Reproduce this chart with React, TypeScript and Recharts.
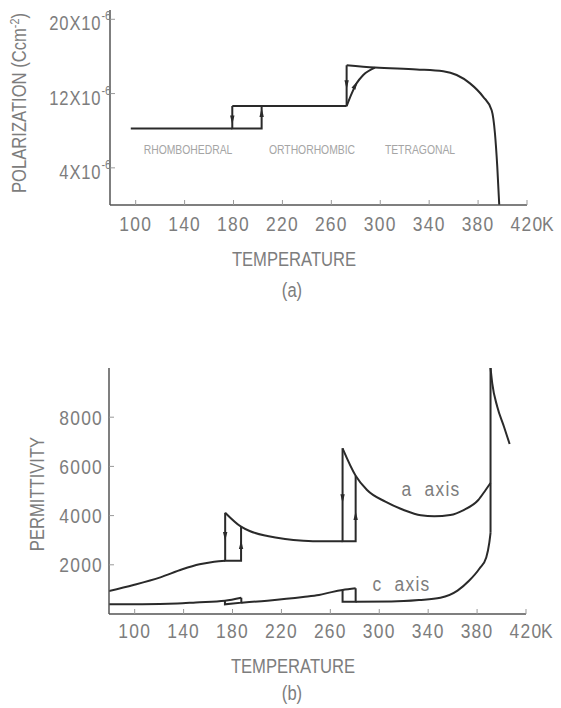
import React from "react";
import { ComposedChart, Line, Scatter, XAxis, YAxis } from "recharts";

// no narrow face installed, so Liberation Sans is squeezed horizontally
const FONT = "'Liberation Sans', Arial, sans-serif";
const SQUEEZE = 0.83;
const INK = "#2a2a2a";
const AXIS = "#555";
const LABEL = "#7d7d7d";
const FAINT = "#a5a5a5";

// shared temperature axis (K)
const tempDomain = [79, 420];
const tempTicks = [100, 140, 180, 220, 260, 300, 340, 380, 420];

// (a) polarization, values in units of 1e-6 C cm^-2
const polTicks = [4, 12, 20];
const polRhombo = [
  { t: 96, p: 8.25 },
  { t: 179, p: 8.25 },
];
const polStep1 = [
  { t: 179, p: 10.65 },
  { t: 179, p: 8.25 },
  { t: 203, p: 8.25 },
  { t: 203, p: 10.65 },
];
const polOrtho = [
  { t: 179, p: 10.65 },
  { t: 272.5, p: 10.65 },
];
const polDrop = [
  { t: 272.5, p: 10.65 },
  { t: 272.5, p: 15.05 },
];
const polHeat = [
  { t: 272.5, p: 10.65 },
  { t: 276.6, p: 12.0 },
  { t: 280.7, p: 13.1 },
  { t: 286.1, p: 14.0 },
  { t: 295.7, p: 14.8 },
];
const polTetra = [
  { t: 272.5, p: 15.05 },
  { t: 295.7, p: 14.8 },
  { t: 329.8, p: 14.6 },
  { t: 351.5, p: 14.4 },
  { t: 362.5, p: 14.0 },
  { t: 373.4, p: 13.1 },
  { t: 384.2, p: 11.65 },
  { t: 391.1, p: 10.2 },
  { t: 393.8, p: 7.7 },
  { t: 395.7, p: 4.1 },
  { t: 397.3, p: 0 },
];
// heading in degrees, 0 = pointing up
const polArrows = [
  { t: 179, p: 9.2, heading: 180 },
  { t: 203, p: 9.9, heading: 0 },
  { t: 272.5, p: 13.0, heading: 180 },
  { t: 279.6, p: 12.9, heading: 28 },
];
const polPhases = [
  { t: 142.8, p: 6.0, text: "RHOMBOHEDRAL" },
  { t: 244.2, p: 6.0, text: "ORTHORHOMBIC" },
  { t: 332.5, p: 6.0, text: "TETRAGONAL" },
];

// (b) permittivity
const epsTicks = [2000, 4000, 6000, 8000];
const aRhombo = [
  { t: 79, e: 935 },
  { t: 99, e: 1180 },
  { t: 121, e: 1490 },
  { t: 139, e: 1816 },
  { t: 153, e: 2019 },
  { t: 165, e: 2127 },
  { t: 174, e: 2168 },
];
const aStep1 = [
  { t: 174, e: 4119 },
  { t: 174, e: 2168 },
  { t: 187, e: 2168 },
  { t: 187, e: 3550 },
];
const aOrtho = [
  { t: 174, e: 4119 },
  { t: 187, e: 3550 },
  { t: 194, e: 3374 },
  { t: 208.5, e: 3171 },
  { t: 223, e: 3049 },
  { t: 238, e: 2981 },
  { t: 252, e: 2954 },
  { t: 270, e: 2954 },
];
const aStep2 = [
  { t: 270, e: 6734 },
  { t: 270, e: 2954 },
  { t: 280.7, e: 2954 },
  { t: 280.7, e: 5623 },
];
const aTetra = [
  { t: 270, e: 6734 },
  { t: 280.7, e: 5623 },
  { t: 290, e: 5041 },
  { t: 305, e: 4566 },
  { t: 320, e: 4227 },
  { t: 334, e: 4011 },
  { t: 345, e: 3970 },
  { t: 358, e: 4024 },
  { t: 369, e: 4227 },
  { t: 381, e: 4634 },
  { t: 387, e: 5041 },
  { t: 391, e: 5325 },
];
const aSpike = [
  { t: 391, e: 3300 },
  { t: 391, e: 10000 },
];
const aCubic = [
  { t: 391, e: 10000 },
  { t: 392.4, e: 9378 },
  { t: 396.5, e: 8427 },
  { t: 402, e: 7614 },
  { t: 406.6, e: 6910 },
];
const cRhombo = [
  { t: 79, e: 393 },
  { t: 106, e: 393 },
  { t: 135, e: 425 },
  { t: 150, e: 470 },
  { t: 173.8, e: 541 },
  { t: 187.2, e: 663 },
];
const cStep1 = [
  { t: 173.8, e: 541 },
  { t: 173.8, e: 394 },
  { t: 187.2, e: 459 },
  { t: 187.2, e: 663 },
];
const cOrtho = [
  { t: 187.2, e: 459 },
  { t: 208.5, e: 542 },
  { t: 237.7, e: 690 },
  { t: 250.7, e: 772 },
  { t: 261, e: 890 },
  { t: 270, e: 976 },
  { t: 280.7, e: 1043 },
];
const cStep2 = [
  { t: 270, e: 976 },
  { t: 270, e: 501 },
  { t: 280.7, e: 501 },
  { t: 280.7, e: 1043 },
];
const cTetra = [
  { t: 280.7, e: 501 },
  { t: 310, e: 505 },
  { t: 332.5, e: 565 },
  { t: 350, e: 660 },
  { t: 364, e: 950 },
  { t: 373.4, e: 1350 },
  { t: 382, e: 1850 },
  { t: 387.5, e: 2300 },
  { t: 390, e: 2900 },
  { t: 391, e: 3300 },
];
const epsArrows = [
  { t: 174, e: 3171, heading: 180 },
  { t: 187, e: 2805, heading: 0 },
  { t: 270, e: 4703, heading: 180 },
  { t: 280.7, e: 3984, heading: 0 },
];
const epsLabels = [
  { t: 342.3, e: 5122, text: "a  axis" },
  { t: 318.2, e: 1240, text: "c  axis" },
];

function ArrowHead(props: any) {
  const { cx, cy, payload } = props;
  return (
    <polygon
      points="0,-5 2.2,4 -2.2,4"
      transform={`translate(${cx},${cy}) rotate(${payload.heading})`}
      fill={INK}
    />
  );
}

// svg text squeezed around its anchor point
function Narrow({ x, y, children, ...rest }: any) {
  return (
    <text transform={`translate(${x},${y}) scale(${SQUEEZE},1)`} fontFamily={FONT} {...rest}>
      {children}
    </text>
  );
}

function PhaseText(props: any) {
  const { cx, cy, payload } = props;
  return (
    <Narrow x={cx} y={cy} dy="0.36em" textAnchor="middle" fill={FAINT} fontSize={12.5}>
      {payload.text}
    </Narrow>
  );
}

function AxisText(props: any) {
  const { cx, cy, payload } = props;
  return (
    <Narrow
      x={cx}
      y={cy}
      dy="0.36em"
      textAnchor="middle"
      fill={LABEL}
      fontSize={21}
      letterSpacing={1.5}
      style={{ whiteSpace: "pre" }}
    >
      {payload.text}
    </Narrow>
  );
}

function TempTick(props: any) {
  const { x, y, payload } = props;
  const v = payload.value;
  return (
    <g>
      <Narrow x={x} y={y} dy="0.71em" textAnchor="middle" fill={LABEL} fontSize={21} letterSpacing={1.5}>
        {v}
      </Narrow>
      {v === 420 && (
        <Narrow x={x + 15} y={y} dy="0.71em" textAnchor="start" fill={LABEL} fontSize={21}>
          K
        </Narrow>
      )}
    </g>
  );
}

function PolTick(props: any) {
  const { x, y, payload } = props;
  return (
    <Narrow x={x + 6} y={y} textAnchor="end" fill={LABEL} fontSize={20} letterSpacing={1}>
      <tspan dy={11}>{payload.value}X10</tspan>
      <tspan dy={-10} fontSize={13} letterSpacing={0}>
        -6
      </tspan>
    </Narrow>
  );
}

function EpsTick(props: any) {
  const { x, y, payload } = props;
  return (
    <Narrow x={x} y={y} dy="0.36em" textAnchor="end" fill={LABEL} fontSize={21} letterSpacing={1.5}>
      {payload.value}
    </Narrow>
  );
}

const lineProps = {
  stroke: INK,
  strokeWidth: 2,
  dot: false,
  activeDot: false,
  isAnimationActive: false,
  legendType: "none" as const,
};

const textStyle: React.CSSProperties = {
  position: "absolute",
  fontFamily: FONT,
  color: LABEL,
  fontSize: 20,
  whiteSpace: "nowrap",
  lineHeight: 1,
};

export default function App() {
  return (
    <div style={{ position: "absolute", left: 0, top: 0, width: 561, height: 708, background: "#fff" }}>
      {/* (a) polarization */}
      <div style={{ position: "absolute", left: 0, top: 0 }}>
        <ComposedChart width={561} height={300} margin={{ top: 10, right: 34, bottom: 65, left: 50 }}>
          <XAxis
            type="number"
            dataKey="t"
            domain={tempDomain}
            ticks={tempTicks}
            allowDataOverflow
            height={30}
            stroke={AXIS}
            strokeWidth={1.5}
            tickSize={-5}
            tickMargin={16}
            tickLine={{ stroke: "#999", strokeWidth: 1 }}
            tick={<TempTick />}
          />
          <YAxis
            type="number"
            dataKey="p"
            domain={[0, 21]}
            ticks={polTicks}
            allowDataOverflow
            width={60}
            stroke={AXIS}
            strokeWidth={1.5}
            tickSize={-5}
            tickMargin={10}
            tickLine={{ stroke: "#999", strokeWidth: 1 }}
            tick={<PolTick />}
          />
          <Line data={polRhombo} dataKey="p" type="linear" {...lineProps} />
          <Line data={polStep1} dataKey="p" type="linear" {...lineProps} />
          <Line data={polOrtho} dataKey="p" type="linear" {...lineProps} />
          <Line data={polDrop} dataKey="p" type="linear" {...lineProps} />
          <Line data={polHeat} dataKey="p" type="monotone" {...lineProps} />
          <Line data={polTetra} dataKey="p" type="monotone" {...lineProps} />
          <Scatter data={polArrows} dataKey="p" shape={<ArrowHead />} isAnimationActive={false} />
          <Scatter data={polPhases} dataKey="p" shape={<PhaseText />} isAnimationActive={false} />
        </ComposedChart>
      </div>
      <div
        style={{
          ...textStyle,
          left: 19,
          top: 103,
          transform: `translate(-50%, -50%) rotate(-90deg) scaleX(${SQUEEZE})`,
        }}
      >
        POLARIZATION (Ccm<sup style={{ fontSize: 13, verticalAlign: "7px", lineHeight: 0 }}>-2</sup>)
      </div>
      <div style={{ ...textStyle, left: 294, top: 249, transform: `translateX(-50%) scaleX(${SQUEEZE})` }}>
        TEMPERATURE
      </div>
      <div style={{ ...textStyle, left: 292, top: 280, transform: `translateX(-50%) scaleX(${SQUEEZE})` }}>(a)</div>

      {/* (b) permittivity */}
      <div style={{ position: "absolute", left: 0, top: 330 }}>
        <ComposedChart width={561} height={330} margin={{ top: 38, right: 35, bottom: 16, left: 49 }}>
          <XAxis
            type="number"
            dataKey="t"
            domain={tempDomain}
            ticks={tempTicks}
            allowDataOverflow
            height={30}
            stroke={AXIS}
            strokeWidth={1.5}
            tickSize={-5}
            tickMargin={14}
            tickLine={{ stroke: "#999", strokeWidth: 1 }}
            tick={<TempTick />}
          />
          <YAxis
            type="number"
            dataKey="e"
            domain={[0, 10000]}
            ticks={epsTicks}
            allowDataOverflow
            width={60}
            stroke={AXIS}
            strokeWidth={1.5}
            tickSize={-5}
            tickMargin={11}
            tickLine={{ stroke: "#999", strokeWidth: 1 }}
            tick={<EpsTick />}
          />
          <Line data={aRhombo} dataKey="e" type="monotone" {...lineProps} />
          <Line data={aStep1} dataKey="e" type="linear" {...lineProps} />
          <Line data={aOrtho} dataKey="e" type="monotone" {...lineProps} />
          <Line data={aStep2} dataKey="e" type="linear" {...lineProps} />
          <Line data={aTetra} dataKey="e" type="monotone" {...lineProps} />
          <Line data={aSpike} dataKey="e" type="linear" {...lineProps} />
          <Line data={aCubic} dataKey="e" type="monotone" {...lineProps} />
          <Line data={cRhombo} dataKey="e" type="monotone" {...lineProps} />
          <Line data={cStep1} dataKey="e" type="linear" {...lineProps} />
          <Line data={cOrtho} dataKey="e" type="monotone" {...lineProps} />
          <Line data={cStep2} dataKey="e" type="linear" {...lineProps} />
          <Line data={cTetra} dataKey="e" type="monotone" {...lineProps} />
          <Scatter data={epsArrows} dataKey="e" shape={<ArrowHead />} isAnimationActive={false} />
          <Scatter data={epsLabels} dataKey="e" shape={<AxisText />} isAnimationActive={false} />
        </ComposedChart>
      </div>
      <div
        style={{
          ...textStyle,
          left: 37,
          top: 494,
          transform: `translate(-50%, -50%) rotate(-90deg) scaleX(${SQUEEZE})`,
        }}
      >
        PERMITTIVITY
      </div>
      <div style={{ ...textStyle, left: 293, top: 656, transform: `translateX(-50%) scaleX(${SQUEEZE})` }}>
        TEMPERATURE
      </div>
      <div style={{ ...textStyle, left: 292, top: 683, transform: `translateX(-50%) scaleX(${SQUEEZE})` }}>(b)</div>
    </div>
  );
}
